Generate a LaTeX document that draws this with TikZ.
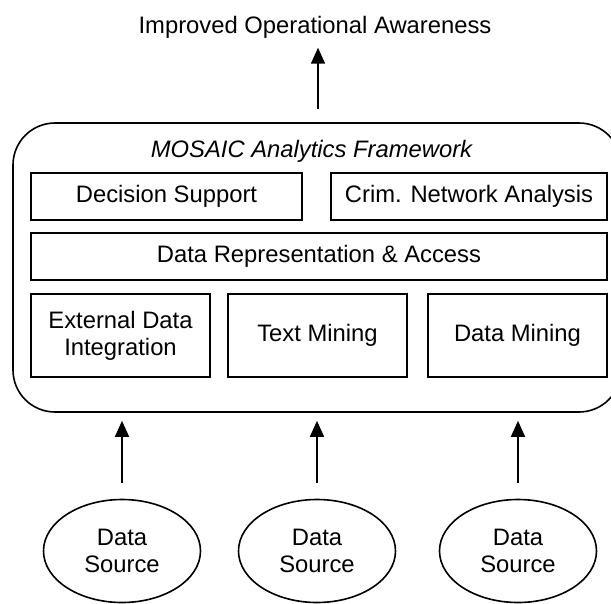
\documentclass[tikz,border=0pt]{standalone}
\usepackage{fontspec}
\setmainfont{Liberation Sans}
\usetikzlibrary{arrows.meta,shapes.geometric}

\tikzset{
  every node/.style={font=\fontsize{23.8}{27}\selectfont, inner sep=0pt},
  frame/.style={draw, rounded corners=42pt, minimum width=608pt, minimum height=289pt},
  module/.style={draw, align=center},
  source/.style={draw, ellipse, align=center, minimum width=157pt, minimum height=103pt},
  feed/.style={-{Triangle[length=16pt,width=14pt]}},
}

\begin{document}
\begin{tikzpicture}[x=1pt, y=-1pt, line width=1.6pt]
  \useasboundingbox (0,0) rectangle (611,603);

  % outcome at the top
  \node[anchor=base] (goal) at (315,33) {Improved Operational Awareness};

  % framework container and its label
  \node[frame] (frame) at (317,267.5) {};
  \node[anchor=base, font=\fontsize{23.8}{27}\selectfont\itshape] (fwname) at (311.5,157) {MOSAIC Analytics Framework};

  % analysis layers
  \node[module, minimum width=271pt, minimum height=47pt] (ds)  at (166.5,196.5) {Decision Support};
  \node[module, minimum width=276pt, minimum height=47pt] (cna) at (469,196.5) {Crim. Network Analysis};
  \node[module, minimum width=576pt, minimum height=47pt] (dra) at (319,256.5) {Data Representation \& Access};
  \node[module, minimum width=179pt, minimum height=83pt] (edi) at (120.5,335.5) {External Data\\Integration};
  \node[module, minimum width=179pt, minimum height=83pt] (tm)  at (317.5,335.5) {Text Mining};
  \node[module, minimum width=179pt, minimum height=83pt] (dm)  at (517.5,335.5) {Data Mining};

  % data sources
  \node[source] (src1) at (122,551) {Data\\Source};
  \node[source] (src2) at (317,551) {Data\\Source};
  \node[source] (src3) at (518,551) {Data\\Source};

  % flows into and out of the framework
  \foreach \s in {src1,src2,src3}
    \draw[feed, shorten <=16pt, shorten >=8pt] (\s.north) -- (\s.north |- frame.south);
  \draw[feed, shorten <=13pt, shorten >=9pt] ([xshift=1pt]frame.north) -- ([xshift=1pt]frame.north |- goal.south);
\end{tikzpicture}
\end{document}
